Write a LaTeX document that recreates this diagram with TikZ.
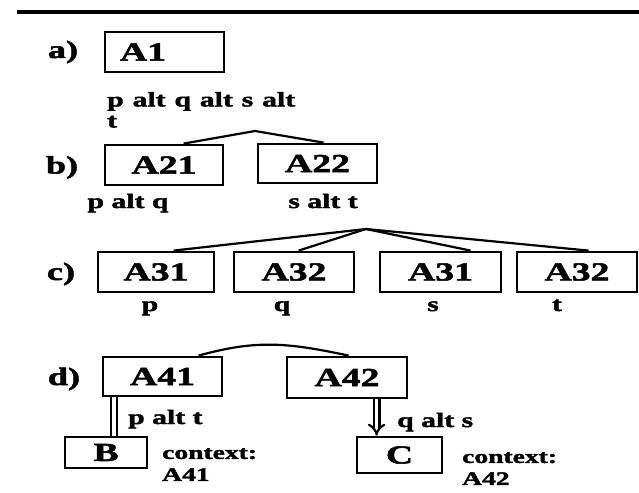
\documentclass[tikz,border=0pt]{standalone}
\usepackage{fontspec}
\setmainfont{Liberation Serif}[FakeStretch=1.45, BoldFeatures={FakeBold=2}]
\usetikzlibrary{calc,arrows.meta}
\begin{document}
\begin{tikzpicture}[x=1pt,y=-1pt,
  box/.style={draw, line width=2.8pt, minimum height=40pt, inner sep=0pt,
    font=\fontsize{26}{28}\selectfont\bfseries},
  lbl/.style={font=\fontsize{25}{27}\selectfont\bfseries, anchor=base, inner sep=0pt},
  cond/.style={font=\fontsize{20.5}{21}\selectfont\bfseries, inner sep=0pt},
  ctx/.style={font=\fontsize{19}{22}\selectfont\bfseries, inner sep=0pt, align=left},
  link/.style={line width=2.2pt},
  dbl/.style={double, double distance=3.5pt, line width=2.2pt}]
\useasboundingbox (0,0) rectangle (639,492);

% heading rule
\coordinate (ruleL) at (17,12);
\coordinate (ruleR) at (639,12);
\draw[line width=3.2pt] (ruleL) -- (ruleR);

% row labels
\node[lbl] (la) at (63,58) {a)};
\node[lbl] (lb) at (62,173.5) {b)};
\node[lbl] (lc) at (61,280) {c)};
\node[lbl] (ld) at (64,385) {d)};

% a) single activity
\node[box, minimum width=119pt, text width=89pt, align=left] (A1) at (164.5,52) {A1};
\node[cond, anchor=north west, text width=188pt, align=justify] (cA1) at (107,92)
  {p alt q alt s alt\linebreak t};

% b) two sub-activities
\node[box, minimum width=118pt] (A21) at (164,165) {A21};
\node[box, minimum width=119pt, minimum height=39pt] (A22) at (317.5,163.5) {A22};
\node[cond, anchor=base] (cA21) at (128,208) {p alt q};
\node[cond, anchor=base] (cA22) at (323,208) {s alt t};
\coordinate (topB) at (255,131);
\draw[link] ($(A21.north west)+(80,0)$) -- (topB) -- ($(A22.north west)+(67,0)$);

% c) four sub-activities
\node[box, minimum width=116pt] (A31) at (156,272) {A31};
\node[box, minimum width=120pt] (A32) at (294,272) {A32};
\node[box, minimum width=121pt] (A31b) at (440.5,272) {A31};
\node[box, minimum width=120pt] (A32b) at (577,272) {A32};
\node[cond, anchor=base] (cp) at (150,311) {p};
\node[cond, anchor=base] (cq) at (282,311) {q};
\node[cond, anchor=base] (cs) at (433,311) {s};
\node[cond, anchor=base] (ct) at (557,311) {t};
\coordinate (topC) at (366,229);
\foreach \n/\d in {A31/77, A32/66, A31b/92, A32b/73}
  \draw[link] (topC) -- ($(\n.north west)+(\d,0)$);

% d) refinement with context
\node[box, minimum width=119pt, minimum height=39pt] (A41) at (162.5,376.5) {A41};
\node[box, minimum width=120pt, minimum height=41pt] (A42) at (347,377.5) {A42};
\node[box, minimum width=82pt, minimum height=31pt] (B) at (106,452.5) {B};
\node[box, minimum width=85pt, minimum height=36pt] (C) at (399.5,455) {C};
\draw[link] ($(A41.north west)+(97,0)$) .. controls (255,340) and (285,342) .. ($(A42.north west)+(63,0)$);
\coordinate (dl) at ($(A41.south west)+(12.5,0)$);
\draw[dbl] (dl) -- (dl |- B.north);
\coordinate (dr) at ($(A42.south west)+(91,0)$);
\draw[dbl, -{Implies}] (dr) -- (dr |- C.north);
\node[cond, anchor=base west] (cB) at (128,424) {p alt t};
\node[cond, anchor=base west] (cC) at (397,427) {q alt s};
\node[ctx, anchor=north west] (xB) at (162,448) {context:\\A41};
\node[ctx, anchor=north west] (xC) at (462,452) {context:\\A42};
\end{tikzpicture}
\end{document}
